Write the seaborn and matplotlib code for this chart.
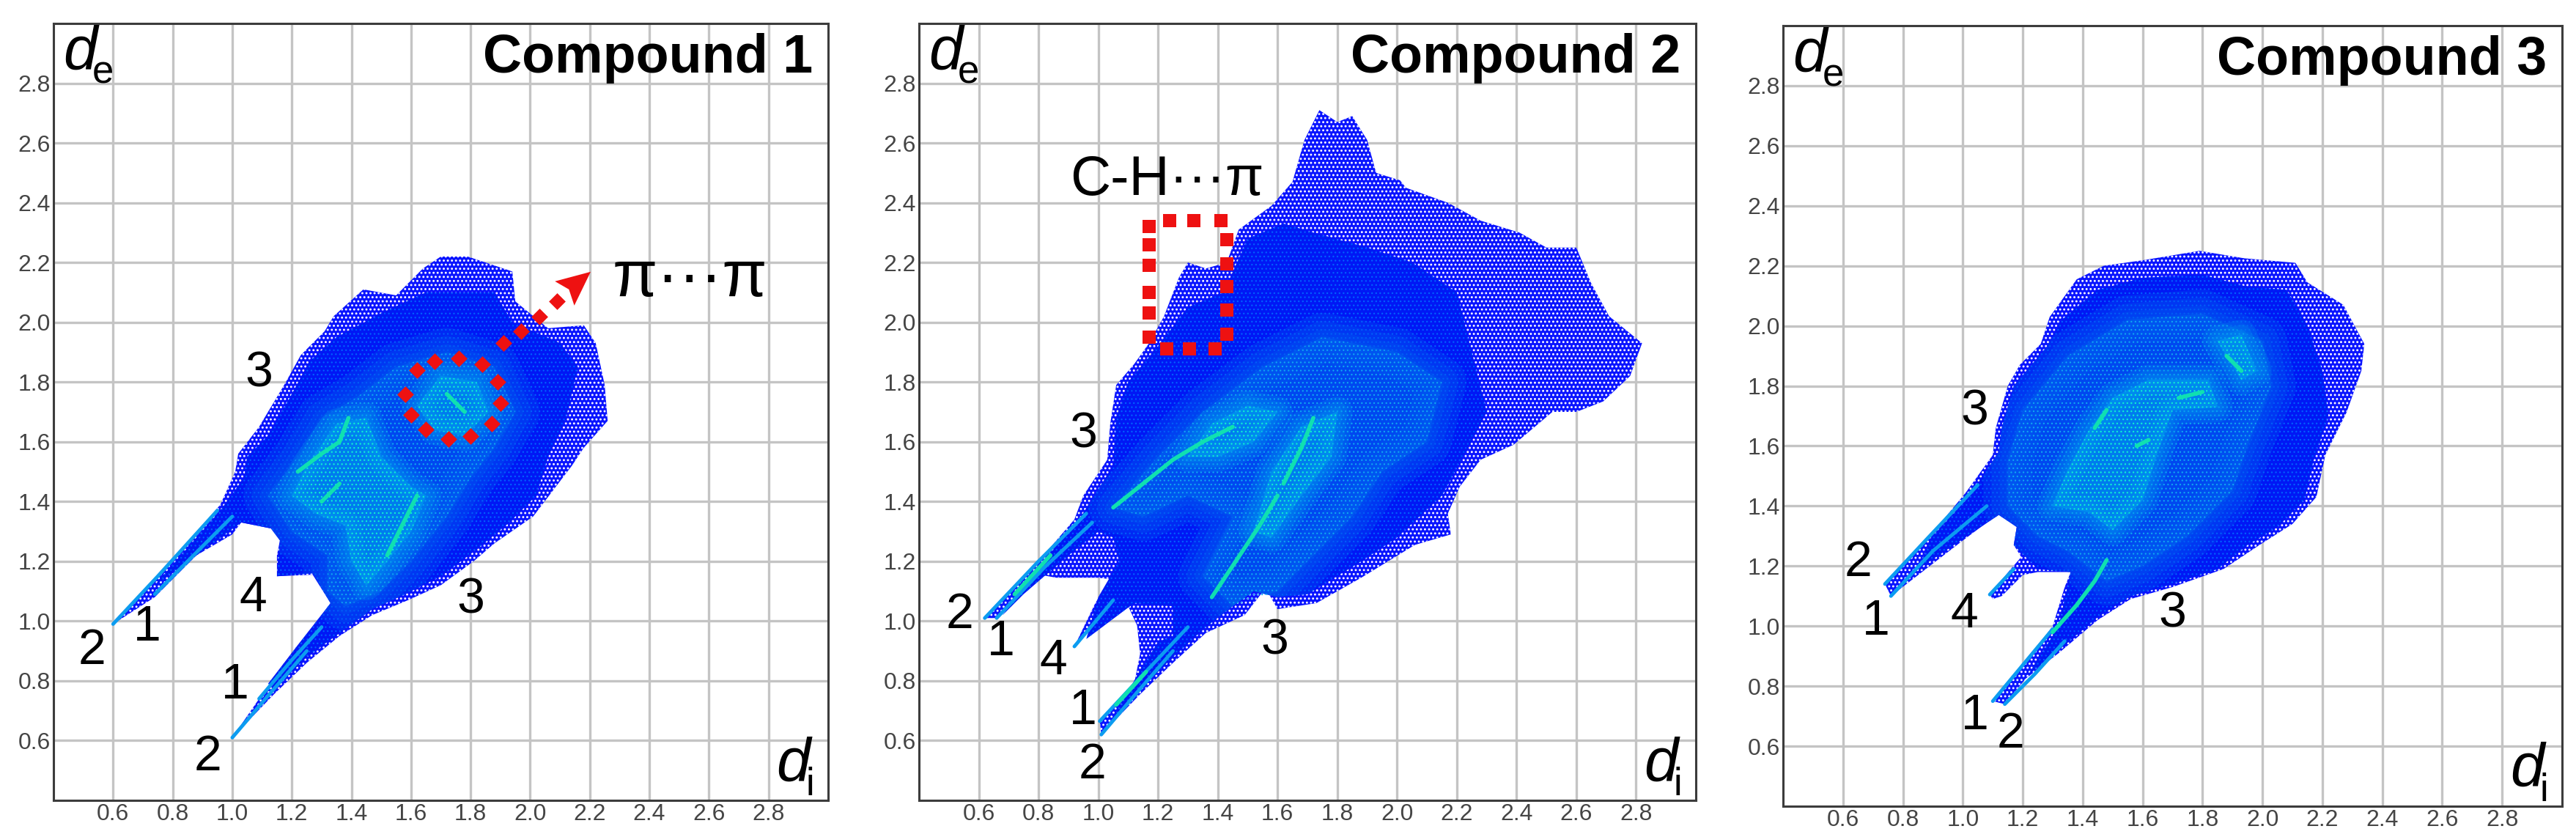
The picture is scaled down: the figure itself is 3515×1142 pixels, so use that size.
import matplotlib
matplotlib.use("Agg")
import matplotlib.pyplot as plt
import pandas as pd
import seaborn as sns

sns.set_style("white")
plt.rcParams["font.family"] = ["Liberation Sans", "DejaVu Sans"]
plt.rcParams["text.color"] = "black"

TICKS = [0.6, 0.8, 1.0, 1.2, 1.4, 1.6, 1.8, 2.0, 2.2, 2.4, 2.6, 2.8]

# Fingerprint regions, (di, de) around each outline
c1_outer = [(.60,.99),(.74,1.14),(.85,1.26),(.96,1.39),(1.01,1.50),(1.02,1.56),(1.09,1.65),(1.18,1.80),(1.23,1.89),
            (1.31,1.97),(1.34,2.02),(1.44,2.11),(1.55,2.09),(1.64,2.18),(1.70,2.22),(1.79,2.22),(1.94,2.17),(1.95,2.07),
            (2.06,1.98),(2.18,1.99),(2.22,1.93),(2.25,1.79),(2.26,1.67),(2.18,1.58),(2.14,1.52),(2.01,1.35),(1.88,1.26),
            (1.81,1.20),(1.70,1.12),(1.59,1.07),(1.47,1.02),(1.36,.95),(1.25,.86),(1.14,.755),(1.00,.61),(1.09,.74),
            (1.18,.86),(1.25,.95),(1.33,1.06),(1.27,1.155),(1.15,1.15),(1.15,1.22),(1.16,1.27),(1.13,1.31),(1.03,1.33),
            (1.00,1.29),(.88,1.22),(.74,1.08)]
c1_core = [(.74,1.12),(.96,1.37),(1.04,1.48),(1.05,1.55),(1.12,1.62),(1.20,1.76),(1.26,1.87),(1.35,1.95),(1.50,2.03),
           (1.65,2.10),(1.88,2.10),(1.94,2.00),(2.10,1.93),(2.16,1.85),(2.12,1.68),(2.06,1.55),(2.02,1.42),(1.93,1.33),
           (1.82,1.24),(1.70,1.15),(1.58,1.09),(1.47,1.04),(1.36,.96),(1.25,.88),(1.15,.78),(1.12,.79),(1.22,.92),
           (1.33,1.06),(1.27,1.16),(1.15,1.15),(1.16,1.27),(1.13,1.31),(1.03,1.33),(.88,1.22)]
c1_mid = [(1.12,1.42),(1.22,1.55),(1.30,1.68),(1.42,1.75),(1.55,1.85),(1.72,1.90),(1.88,1.85),(1.95,1.70),(1.88,1.58),
          (1.80,1.48),(1.72,1.35),(1.60,1.20),(1.50,1.10),(1.38,1.05),(1.32,1.10),(1.32,1.22),(1.20,1.30)]
c1_bright = [[(1.20,1.42),(1.25,1.52),(1.35,1.66),(1.45,1.68),(1.50,1.55),(1.60,1.45),(1.65,1.42),(1.60,1.30),(1.52,1.20),
              (1.45,1.12),(1.40,1.20),(1.38,1.32),(1.28,1.36)],
             [(1.62,1.72),(1.70,1.82),(1.82,1.80),(1.86,1.70),(1.78,1.62),(1.68,1.64)]]
c1_streaks = [[(.60,.99),(.75,1.15),(.95,1.37)], [(1.00,.61),(1.12,.75),(1.25,.90)], [(1.09,.74),(1.20,.87),(1.30,.98)],
              [(.74,1.09),(.90,1.25),(1.00,1.35)]]
c1_hot = [[(1.52,1.22),(1.56,1.30),(1.62,1.42)], [(1.22,1.50),(1.30,1.56),(1.36,1.60),(1.39,1.68)],
          [(1.72,1.76),(1.78,1.70)], [(1.30,1.40),(1.36,1.46)]]

c2_outer = [(.62,1.01),(.77,1.165),(.92,1.34),(.95,1.42),(1.03,1.54),(1.04,1.66),(1.06,1.79),(1.12,1.86),(1.17,1.93),
            (1.22,2.02),(1.27,2.15),(1.30,2.20),(1.36,2.18),(1.43,2.20),(1.47,2.31),(1.58,2.39),(1.65,2.47),(1.69,2.61),
            (1.74,2.71),(1.80,2.67),(1.85,2.69),(1.90,2.61),(1.93,2.50),(2.01,2.475),(2.03,2.45),(2.17,2.40),(2.28,2.34),
            (2.41,2.30),(2.50,2.25),(2.60,2.25),(2.65,2.13),(2.71,2.02),(2.82,1.93),(2.78,1.82),(2.69,1.735),(2.60,1.70),
            (2.52,1.70),(2.39,1.59),(2.28,1.54),(2.21,1.45),(2.17,1.36),(2.18,1.29),(2.06,1.255),(1.97,1.20),(1.88,1.145),
            (1.73,1.06),(1.60,1.04),(1.56,1.11),(1.49,1.02),(1.36,.96),(1.25,.86),(1.14,.755),(1.01,.62),(1.005,.665),
            (1.12,.79),(1.14,.89),(1.13,.985),(1.10,1.05),(1.03,1.04),(.92,.915),(.99,1.06),(1.04,1.14),(1.00,1.145),
            (.86,1.145),(.805,1.155),(.66,1.01)]
c2_core = [(.78,1.16),(.93,1.33),(1.05,1.52),(1.06,1.68),(1.10,1.80),(1.20,1.92),(1.30,2.05),(1.42,2.10),(1.50,2.28),
           (1.62,2.33),(1.72,2.30),(1.90,2.25),(2.05,2.20),(2.20,2.10),(2.25,1.90),(2.30,1.70),(2.22,1.55),(2.15,1.42),
           (2.00,1.28),(1.88,1.20),(1.70,1.09),(1.60,1.08),(1.52,1.10),(1.45,1.05),(1.36,.98),(1.25,.88),(1.14,.77),
           (1.03,.64),(1.12,.80),(1.20,.93),(1.25,.95),(1.25,1.05),(1.12,1.06),(.96,.94),(1.00,1.08),(1.07,1.20),
           (1.05,1.28),(1.00,1.30),(.90,1.22),(.75,1.09),(.68,1.02)]
c2_mid = [(1.05,1.38),(1.20,1.55),(1.35,1.70),(1.55,1.85),(1.75,1.95),(2.00,1.90),(2.15,1.80),(2.10,1.60),(1.95,1.50),
          (1.85,1.35),(1.70,1.20),(1.60,1.10),(1.45,1.05),(1.35,1.15),(1.45,1.35),(1.30,1.42),(1.15,1.35)]
c2_bright = [[(1.30,1.55),(1.38,1.66),(1.50,1.72),(1.60,1.70),(1.52,1.60),(1.40,1.55)],
             [(1.52,1.30),(1.58,1.50),(1.68,1.65),(1.80,1.70),(1.78,1.55),(1.68,1.42),(1.58,1.28)]]
c2_streaks = [[(.62,1.01),(.80,1.20),(.96,1.36)], [(.66,1.01),(.82,1.18),(.98,1.33)], [(1.01,.62),(1.12,.75),(1.25,.90)],
              [(1.005,.665),(1.14,.81),(1.30,.98)], [(.92,.915),(1.00,1.01),(1.05,1.07)]]
c2_hot = [[(1.05,1.38),(1.15,1.46),(1.25,1.54),(1.35,1.60),(1.45,1.65)], [(1.38,1.08),(1.46,1.20),(1.54,1.32),(1.60,1.42)],
          [(1.62,1.46),(1.68,1.58),(1.72,1.68)], [(.72,1.09),(.84,1.22)], [(1.06,.72),(1.16,.83)]]

c3_outer = [(.74,1.14),(.89,1.30),(1.01,1.445),(1.10,1.57),(1.11,1.66),(1.15,1.80),(1.19,1.87),(1.26,1.94),(1.29,2.03),
            (1.38,2.155),(1.47,2.20),(1.61,2.22),(1.79,2.25),(1.94,2.225),(2.11,2.21),(2.15,2.145),(2.27,2.07),(2.34,1.94),
            (2.33,1.85),(2.28,1.71),(2.21,1.57),(2.18,1.43),(2.10,1.34),(1.99,1.27),(1.87,1.19),(1.70,1.13),(1.56,1.09),
            (1.45,1.02),(1.32,.91),(1.21,.825),(1.14,.74),(1.10,.75),(1.21,.88),(1.30,1.00),(1.34,1.13),(1.36,1.18),
            (1.25,1.18),(1.20,1.17),(1.13,1.10),(1.10,1.09),(1.09,1.105),(1.16,1.19),(1.195,1.23),(1.17,1.27),(1.18,1.33),
            (1.12,1.375),(1.00,1.285),(.76,1.10),(.75,1.12)]
c3_core = [(.90,1.30),(1.02,1.43),(1.12,1.58),(1.13,1.66),(1.17,1.80),(1.28,1.93),(1.33,2.02),(1.45,2.12),(1.60,2.16),
           (1.80,2.17),(1.95,2.13),(2.08,2.12),(2.15,2.00),(2.20,1.85),(2.22,1.70),(2.17,1.55),(2.14,1.42),(2.05,1.33),
           (1.95,1.27),(1.85,1.19),(1.70,1.14),(1.56,1.10),(1.45,1.03),(1.32,.92),(1.22,.84),(1.32,1.00),(1.36,1.18),
           (1.25,1.19),(1.17,1.27),(1.18,1.33),(1.12,1.37),(1.00,1.29),(.85,1.19)]
c3_mid = [(1.15,1.55),(1.20,1.72),(1.35,1.90),(1.55,2.02),(1.80,2.04),(2.00,1.95),(2.03,1.80),(1.95,1.60),(1.90,1.45),
          (1.75,1.30),(1.60,1.20),(1.48,1.15),(1.35,1.25),(1.25,1.30),(1.15,1.40)]
c3_bright = [[(1.30,1.40),(1.35,1.52),(1.42,1.65),(1.50,1.76),(1.62,1.82),(1.82,1.82),(1.85,1.73),(1.70,1.72),(1.65,1.58),
              (1.60,1.42),(1.50,1.32),(1.42,1.38)],
             [(1.85,1.95),(1.93,1.97),(1.98,1.85),(1.93,1.82)]]
c3_streaks = [[(.74,1.14),(.88,1.29),(1.05,1.47)], [(.76,1.10),(.90,1.25),(1.08,1.40)], [(1.10,.75),(1.20,.87),(1.30,.99)],
              [(1.14,.74),(1.24,.84),(1.34,.95)], [(1.09,1.105),(1.17,1.19)]]
c3_hot = [[(1.30,.98),(1.38,1.07),(1.44,1.15),(1.48,1.22)], [(1.44,1.66),(1.48,1.72)], [(1.72,1.76),(1.80,1.78)],
          [(1.58,1.60),(1.62,1.62)], [(1.88,1.90),(1.93,1.85)]]

# Marked contacts
circle_di = [1.58, 1.62, 1.68, 1.76, 1.84, 1.89, 1.90, 1.87, 1.80, 1.725, 1.65, 1.60, 1.91, 1.97, 2.03, 2.09]
circle_de = [1.76, 1.84, 1.87, 1.88, 1.86, 1.80, 1.73, 1.66, 1.62, 1.61, 1.64, 1.69, 1.93, 1.97, 2.02, 2.07]
head_di = [2.203, 2.083, 2.13, 2.148]
head_de = [2.169, 2.137, 2.11, 2.056]
rect_di = [1.24, 1.32, 1.41, 1.43, 1.43, 1.43, 1.43, 1.43, 1.23, 1.305, 1.39, 1.17, 1.17, 1.17, 1.17, 1.17, 1.17]
rect_de = [2.34, 2.34, 2.34, 2.276, 2.195, 2.12, 2.04, 1.96, 1.91, 1.91, 1.91, 1.95, 2.03, 2.10, 2.19, 2.26, 2.32]

c1_labels = [("3",1.09,1.83),("4",1.07,1.076),("3",1.80,1.07),("1",.714,.98),("2",.53,.90),("1",1.01,.785),("2",.917,.545)]
c2_labels = [("3",.95,1.625),("3",1.59,.933),("2",.535,1.02),("1",.674,.93),("4",.85,.866),("1",.95,.70),("2",.98,.518)]
c3_labels = [("3",1.04,1.715),("3",1.70,1.04),("2",.65,1.21),("1",.71,1.015),("4",1.005,1.04),("1",1.04,.70),("2",1.16,.64)]

W, H = 3515, 1142
fig = plt.figure(figsize=(W / 100, H / 100), dpi=100)


def draw_path(ax, path, color, width):
    df = pd.DataFrame(path, columns=["di", "de"])
    sns.lineplot(data=df, x="di", y="de", sort=False, estimator=None, color=color, linewidth=width,
                 ax=ax, zorder=4, legend=False)


def specks(ax, region, color, hatch, width, z):
    # dot pattern stands in for the pixel scatter of the original
    plt.rcParams["hatch.linewidth"] = width
    return ax.fill(*zip(*region), facecolor="none", edgecolor=color, hatch=hatch, linewidth=0, zorder=z)


def soft_fill(ax, region, color, alpha, widths, z, clip):
    # same shape a few times, growing, so the level has no hard edge
    for w in widths:
        for poly in ax.fill(*zip(*region), facecolor=color, edgecolor=color, alpha=alpha, linewidth=w,
                            joinstyle="round", zorder=z):
            poly.set_clip_path(clip)


def fingerprint(box, title, outer, core, mid, bright, streaks, hot, labels):
    left, top, right, bottom = box
    ax = fig.add_axes([left / W, 1 - bottom / H, (right - left) / W, (bottom - top) / H])
    ax.set_xlim(0.4, 3.0)
    ax.set_ylim(0.4, 3.0)
    ax.set_xticks(TICKS)
    ax.set_yticks(TICKS)
    ax.set_xticklabels([f"{t:.1f}" for t in TICKS])
    ax.set_yticklabels([f"{t:.1f}" for t in TICKS])
    ax.tick_params(length=0, labelsize=23, labelcolor="#454545", pad=3)
    ax.grid(True, color="#c4c4c4", linewidth=2.4)
    ax.set_axisbelow(True)
    for s in ax.spines.values():
        s.set_color("#3c3c3c")
        s.set_linewidth(2.2)
        s.set_visible(True)

    blob = ax.fill(*zip(*core), facecolor="#0018f5", linewidth=0, zorder=2.2)[0]
    ax.fill(*zip(*outer), facecolor="#0a14ff", linewidth=0, zorder=2)
    specks(ax, outer, "white", "...", 1.3, 2.1)
    specks(ax, core, "#0060ff", "...", 0.9, 2.3)
    soft_fill(ax, mid, "#0060f0", 0.25, (48, 32, 16, 4), 2.4, blob)
    specks(ax, mid, "#10a8f0", "...", 0.8, 2.5)
    for part in bright:
        soft_fill(ax, part, "#00a0ee", 0.2, (30, 20, 10, 2), 2.6, blob)
        specks(ax, part, "#10f0d0", "...", 0.8, 2.7)
    for path in streaks:
        draw_path(ax, path, "#0c9cf0", 3.5)
    for path in hot:
        draw_path(ax, path, "#10e0b0", 4)

    for txt, x, y in labels:
        ax.text(x, y, txt, fontsize=49, ha="center", va="center", zorder=6)

    ax.text(0.98, 0.955, title, transform=ax.transAxes, fontsize=53, fontweight="bold", ha="right", va="center", zorder=6)
    ax.text(0.034, 0.962, "d", transform=ax.transAxes, fontsize=60, style="italic", ha="center", va="center")
    ax.text(0.064, 0.936, "e", transform=ax.transAxes, fontsize=38, ha="center", va="center")
    ax.text(0.955, 0.046, "d", transform=ax.transAxes, fontsize=60, style="italic", ha="center", va="center")
    ax.text(0.977, 0.020, "i", transform=ax.transAxes, fontsize=38, ha="center", va="center")
    return ax


ax1 = fingerprint((73, 32, 1130, 1092), "Compound 1", c1_outer, c1_core, c1_mid, c1_bright, c1_streaks, c1_hot, c1_labels)
ax2 = fingerprint((1254, 32, 2314, 1092), "Compound 2", c2_outer, c2_core, c2_mid, c2_bright, c2_streaks, c2_hot, c2_labels)
ax3 = fingerprint((2433, 35, 3496, 1100), "Compound 3", c3_outer, c3_core, c3_mid, c3_bright, c3_streaks, c3_hot, c3_labels)

sns.scatterplot(x=circle_di, y=circle_de, marker="D", s=135, color="#ee1111", linewidth=0, ax=ax1, zorder=5, legend=False)
ax1.fill(head_di, head_de, color="#ee1111", linewidth=0, zorder=5)
ax1.text(2.535, 2.145, "π···π", fontsize=64, ha="center", va="center", zorder=6)
sns.scatterplot(x=rect_di, y=rect_de, marker="s", s=150, color="#ee1111", linewidth=0, ax=ax2, zorder=5, legend=False)
ax2.text(1.23, 2.475, "C-H···π", fontsize=55, ha="center", va="center", zorder=6)
for ax in (ax1, ax2, ax3):
    ax.set_xlabel("")
    ax.set_ylabel("")

fig.savefig("out.png", dpi=100)
